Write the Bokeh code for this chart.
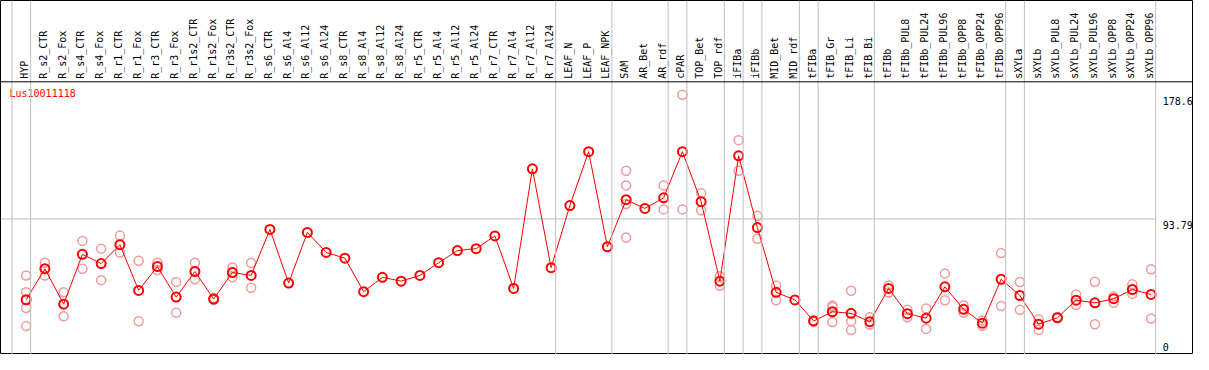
import numpy as np
from bokeh.plotting import figure
from bokeh.models import ColumnDataSource, Range1d, Span
from bokeh.core.properties import value
from bokeh.embed import file_html
from bokeh.resources import INLINE

gene = "Lus10011118"

categories = [
    "HYP",
    "R_s2_CTR", "R_s2_Fox", "R_s4_CTR", "R_s4_Fox", "R_r1_CTR", "R_r1_Fox",
    "R_r3_CTR", "R_r3_Fox", "R_r1s2_CTR", "R_r1s2_Fox", "R_r3s2_CTR", "R_r3s2_Fox",
    "R_s6_CTR", "R_s6_Al4", "R_s6_Al12", "R_s6_Al24",
    "R_s8_CTR", "R_s8_Al4", "R_s8_Al12", "R_s8_Al24",
    "R_r5_CTR", "R_r5_Al4", "R_r5_Al12", "R_r5_Al24",
    "R_r7_CTR", "R_r7_Al4", "R_r7_Al12", "R_r7_Al24",
    "LEAF_N", "LEAF_P", "LEAF_NPK",
    "SAM", "AR_Bet", "AR_rdf",
    "cPAR",
    "TOP_Bet", "TOP_rdf",
    "iFIBa",
    "iFIBb",
    "MID_Bet", "MID_rdf",
    "tFIBa",
    "tFIB_Gr", "tFIB_Li", "tFIB_Bi",
    "tFIBb", "tFIBb_PUL8", "tFIBb_PUL24", "tFIBb_PUL96", "tFIBb_OPP8", "tFIBb_OPP24", "tFIBb_OPP96",
    "sXYLa",
    "sXYLb", "sXYLb_PUL8", "sXYLb_PUL24", "sXYLb_PUL96", "sXYLb_OPP8", "sXYLb_OPP24", "sXYLb_OPP96",
]

group_sizes = [1, 28, 3, 3, 1, 2, 1, 1, 2, 1, 3, 7, 1, 7]

means = [
    38.6,
    59.8, 35.6, 69.6, 63.3, 76.2, 45.0,
    61.3, 40.4, 57.9, 39.1, 57.2, 55.2,
    86.6, 50.0, 84.6, 70.9,
    67.0, 44.1, 53.9, 51.3,
    55.2, 63.9, 72.2, 73.5,
    82.2, 46.3, 128.0, 60.5,
    102.9, 139.7, 74.8,
    106.9, 101.0, 108.2,
    139.7,
    105.6, 51.3,
    136.9,
    87.9,
    43.7, 38.5,
    24.1,
    30.4, 29.3, 23.6,
    46.3, 29.1, 26.0, 47.4, 32.1, 22.6, 52.6,
    41.5,
    21.9, 26.3, 38.3, 36.5, 39.3, 45.6, 42.2,
]

replicates = [
    [55.2, 43.7, 33.0, 20.6],
    [63.9, 55.2], [43.7, 27.3], [78.8, 59.8], [73.5, 52.0], [82.4, 70.9], [65.2, 23.9],
    [63.9, 58.9], [50.7, 29.8], [63.9, 52.6], [39.8, 38.5], [60.6, 53.9], [63.7, 46.8],
    [], [], [], [],
    [], [], [], [],
    [], [], [], [],
    [], [], [], [],
    [], [], [],
    [126.7, 116.7, 104.0, 81.1], [], [116.7, 100.3],
    [178.6, 100.3],
    [111.4, 99.7], [54.6, 48.1],
    [147.6, 126.7],
    [95.9, 80.3],
    [48.3, 38.3], [],
    [24.6, 23.6],
    [34.6, 33.6, 23.4], [44.8, 24.0, 18.0], [26.7, 21.7],
    [48.4, 43.5], [31.7, 26.7], [32.6, 18.7], [56.6, 38.3], [34.7, 29.8], [24.5, 20.8], [70.5, 34.3],
    [50.7, 31.7],
    [25.2, 18.0], [26.9, 26.2], [42.2, 35.0], [50.9, 21.9], [40.9, 36.5], [49.1, 42.6], [59.4, 25.8],
]

y_ticks = [0, 93.79, 178.6]
y_tick_labels = ["0", "93.79", "178.6"]

# ---- layout constants (data-space extents of the canvas) ----
X_START, X_END = -1.368, 62.26
Y_START, Y_END = 1.21, 242.96
HEADER_Y = 187.43
FONT = value("DejaVu Sans Mono")

xs = list(range(len(categories)))
rep_x = [i for i, r in enumerate(replicates) for _ in r]
rep_y = [v for r in replicates for v in r]

p = figure(width=1193, height=354,
           x_range=Range1d(X_START, X_END), y_range=Range1d(Y_START, Y_END),
           x_axis_location=None, y_axis_location=None,
           toolbar_location=None, output_backend="svg", min_border=0,
           outline_line_color="black", outline_line_width=1,
           background_fill_color="white", border_fill_color="white")
p.grid.visible = False

# group separators
bounds = np.cumsum([0] + group_sizes) - 1 + 0.24
for b in bounds:
    p.add_layout(Span(location=float(b), dimension="height",
                      line_color="#c0c0c0", line_width=1))

# header separator line
p.add_layout(Span(location=HEADER_Y, dimension="width", line_color="black", line_width=1))

# gridline at middle tick
p.segment(x0=[X_START], x1=[float(bounds[-1])], y0=[y_ticks[1]], y1=[y_ticks[1]],
          line_color="#c0c0c0", line_width=1)

# replicate points
p.scatter(rep_x, rep_y, marker="circle", size=9, fill_color=None,
          line_color="#f09a9a", line_width=1.5)

# mean line + points
p.line(xs, means, line_color="#ff0000", line_width=1)
p.scatter(xs, means, marker="circle", size=9, fill_color=None,
          line_color="#ff0000", line_width=2)

# category labels (rotated, in header)
lab_src = ColumnDataSource(dict(x=xs, y=[HEADER_Y] * len(xs), t=categories))
p.text(x="x", y="y", text="t", source=lab_src, angle=np.pi / 2,
       text_align="left", text_baseline="middle", x_offset=-1.5, y_offset=-3,
       text_font=FONT, text_font_size="10px", text_color="black")

# gene title
p.text(x=[X_START], y=[HEADER_Y], text=[gene], x_offset=9, y_offset=11.5,
       text_align="left", text_baseline="middle",
       text_font=FONT, text_font_size="10px", text_color="#ff0000")

# value labels on right
tick_src = ColumnDataSource(dict(
    x=[float(bounds[-1])] * len(y_ticks), y=y_ticks, t=y_tick_labels,
    base=["bottom", "top", "top"], yoff=[-5, 2, 2]))
p.text(x="x", y="y", text="t", source=tick_src, x_offset=7, y_offset="yoff",
       text_align="left", text_baseline="base",
       text_font=FONT, text_font_size="10px", text_color="black")

open("out.html", "w").write(file_html(p, INLINE))
